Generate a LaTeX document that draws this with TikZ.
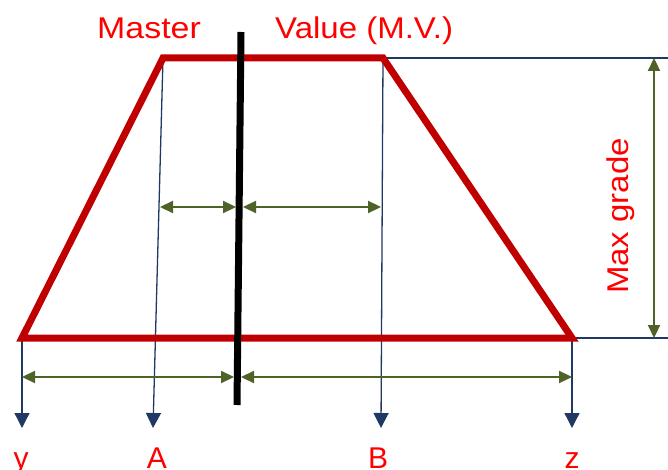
\documentclass[tikz,border=0pt]{standalone}
\usepackage{fontspec}
\setmainfont{Liberation Sans}
\usetikzlibrary{arrows.meta}
\definecolor{trapred}{HTML}{C00000}
\definecolor{txtred}{HTML}{FF0000}
\definecolor{navy}{HTML}{1F3864}
\definecolor{olive}{HTML}{4F6228}
\tikzset{
  trap/.style={draw=trapred, line width=7pt, line join=miter},
  guide/.style={draw=navy, line width=1.3pt},
  downarr/.style={guide, -{Triangle[length=15pt,width=15pt]}},
  dim/.style={draw=olive, line width=2.2pt, {Triangle[length=13pt,width=12pt]}-{Triangle[length=13pt,width=12pt]}},
  lbl/.style={text=txtred, font=\fontsize{30}{34}\selectfont, inner sep=0pt},
}
\begin{document}
\begin{tikzpicture}[x=1pt,y=-1pt]
\useasboundingbox (0,0) rectangle (668,470);
% corners
\coordinate (bl) at (22,338);
\coordinate (tl) at (163,58);
\coordinate (tr) at (383,58);
\coordinate (br) at (572,338);
% guide lines
\coordinate (ya) at (22,428);
\coordinate (aa) at (153,428);
\coordinate (ba) at (381,428);
\coordinate (za) at (572,428);
\coordinate (te) at (668,58);
\coordinate (be) at (668,338);
\draw[downarr] (bl) -- (ya);
\draw[downarr] (tl) -- (aa);
\draw[downarr] (tr) -- (ba);
\draw[downarr] (br) -- (za);
\draw[guide] (tr) -- (te);
\draw[guide] (br) -- (be);
% trapezoid
\draw[trap] (bl) -- (tl) -- (tr) -- (br) -- cycle;
% black divider
\coordinate (dt) at (241,32);
\coordinate (db) at (237,405);
\draw[line width=7pt] (dt) -- (db);
% dimension arrows
\coordinate (m1) at (160,207);
\coordinate (m2) at (236,207);
\coordinate (m3) at (243,207);
\coordinate (m4) at (381,207);
\draw[dim] (m1) -- (m2);
\draw[dim] (m3) -- (m4);
\coordinate (n1) at (22,377);
\coordinate (n2) at (234,377);
\coordinate (n3) at (241,377);
\coordinate (n4) at (572,377);
\draw[dim] (n1) -- (n2);
\draw[dim] (n3) -- (n4);
\coordinate (v1) at (654,58);
\coordinate (v2) at (654,338);
\draw[dim] (v1) -- (v2);
% labels
\node[lbl, anchor=base west, xscale=1.13] (master) at (97,39) {Master};
\node[lbl, anchor=base west, xscale=1.1] (value) at (275,39) {Value (M.V.)};
\node[lbl, rotate=90, xscale=1.1] (maxg) at (621,216) {Max grade};
\node[lbl, anchor=base] (ly) at (21,468) {y};
\node[lbl, anchor=base] (la) at (157,468) {A};
\node[lbl, anchor=base] (lb) at (378,468) {B};
\node[lbl, anchor=base] (lz) at (572,468) {z};
\end{tikzpicture}
\end{document}
